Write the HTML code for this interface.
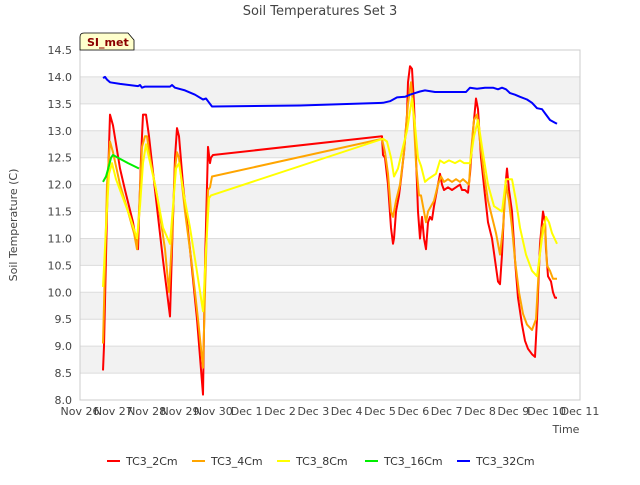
<!DOCTYPE html>
<html><head><meta charset="utf-8"><style>
body{margin:0;background:#fff;font-family:"Liberation Sans","DejaVu Sans",sans-serif}
svg text{font-family:"DejaVu Sans","Liberation Sans",sans-serif}
</style></head><body>
<svg id="c" width="640" height="480" viewBox="0 0 640 480" xmlns="http://www.w3.org/2000/svg">
<rect width="640" height="480" fill="#fff"/>
<text x="320" y="15" text-anchor="middle" font-size="13" fill="#444">Soil Temperatures Set 3</text>
<g id="grid"></g>
<g id="series"></g>
<rect x="80" y="50" width="500" height="350" fill="none" stroke="#ccc"/>
<g id="axes"></g>
<text transform="translate(17,225) rotate(-90)" text-anchor="middle" font-size="11" fill="#444">Soil Temperature (C)</text>
<text x="566" y="433" text-anchor="middle" font-size="11" fill="#444">Time</text>
<g>
<path d="M80,50 L80,37 Q80,33 84,33 L128,33 L134,40 L134,50 Z" fill="#ffffcc" stroke="#000" stroke-width="0.8"/>
<text x="87" y="46" font-size="11" font-weight="bold" fill="#8b0000">SI_met</text>
</g>
<g id="legend"></g>
</svg>
<script>
const yTicks=[8.0,8.5,9.0,9.5,10.0,10.5,11.0,11.5,12.0,12.5,13.0,13.5,14.0,14.5];
const xTickLabels=["Nov 26","Nov 27","Nov 28","Nov 29","Nov 30","Dec 1","Dec 2","Dec 3","Dec 4","Dec 5","Dec 6","Dec 7","Dec 8","Dec 9","Dec 10","Dec 11"];
const seriesNames=["TC3_2Cm","TC3_4Cm","TC3_8Cm","TC3_16Cm","TC3_32Cm"];
const seriesColors=["#ff0000","#ffa500","#ffff00","#00ee00","#0000ff"];
const t2=[.69,.72,.81,.9,.99,1.2,1.35,1.59,1.71,1.74,1.83,1.89,1.98,2.07,2.25,2.49,2.7,2.76,2.85,2.91,2.97,3.09,3.3,3.51,3.69,3.75,3.84,3.9,3.93,3.99,9.06,9.09,9.15,9.24,9.33,9.39,9.42,9.48,9.57,9.63,9.72,9.81,9.84,9.9,9.96,10.02,10.08,10.14,10.2,10.26,10.32,10.38,10.44,10.5,10.56,10.62,10.71,10.8,10.86,10.92,11.04,11.16,11.28,11.4,11.46,11.55,11.64,11.7,11.79,11.88,11.94,12.03,12.15,12.24,12.36,12.45,12.54,12.6,12.66,12.75,12.81,12.87,12.96,13.05,13.14,13.26,13.35,13.44,13.56,13.65,13.71,13.8,13.89,13.95,13.98,14.04,14.13,14.19,14.25,14.31];
const v2=[8.55,9.0,11.5,13.3,13.1,12.3,11.9,11.3,10.85,10.8,12.5,13.3,13.3,12.9,11.9,10.6,9.55,10.8,12.5,13.05,12.9,12.0,10.8,9.5,8.1,10.5,12.7,12.4,12.5,12.55,12.9,12.55,12.5,12.0,11.2,10.9,11.0,11.5,11.8,12.1,12.6,13.3,13.9,14.2,14.15,13.5,12.5,11.5,11.0,11.4,11.0,10.8,11.3,11.4,11.35,11.6,11.9,12.2,12.0,11.9,11.95,11.9,11.95,12.0,11.9,11.9,11.85,12.2,13.0,13.6,13.4,12.5,11.8,11.3,11.0,10.6,10.2,10.15,10.7,11.9,12.3,11.9,11.5,10.6,9.9,9.4,9.1,8.95,8.85,8.8,9.5,10.9,11.5,11.3,10.8,10.3,10.2,10.0,9.9,9.9];
const t4=[.69,.75,.81,.9,.99,1.2,1.44,1.62,1.71,1.77,1.86,1.95,2.01,2.1,2.31,2.55,2.67,2.76,2.85,2.91,2.97,3.15,3.36,3.54,3.69,3.75,3.84,3.9,3.96,9.06,9.15,9.24,9.33,9.39,9.48,9.6,9.72,9.84,9.93,9.99,10.08,10.17,10.23,10.32,10.38,10.44,10.53,10.62,10.74,10.83,10.92,11.04,11.16,11.28,11.4,11.49,11.58,11.67,11.73,11.82,11.91,12.0,12.12,12.24,12.36,12.48,12.6,12.69,12.78,12.87,12.96,13.05,13.17,13.29,13.41,13.56,13.68,13.77,13.86,13.95,14.01,14.1,14.19,14.31];
const v4=[9.05,10.5,12.0,12.8,12.6,12.0,11.5,11.1,10.8,11.5,12.7,12.9,12.9,12.5,11.8,10.8,10.0,11.0,12.3,12.6,12.5,11.5,10.5,9.5,8.6,10.0,11.9,11.95,12.15,12.85,12.6,12.2,11.5,11.4,11.7,12.0,12.6,13.5,13.9,13.5,12.4,11.8,11.8,11.5,11.3,11.5,11.6,11.7,12.0,12.15,12.05,12.1,12.05,12.1,12.05,12.1,12.05,12.0,12.6,13.2,13.3,12.8,12.2,11.7,11.4,11.1,10.7,11.2,12.0,11.7,11.2,10.6,10.0,9.6,9.4,9.3,9.5,10.5,11.2,11.3,10.5,10.4,10.25,10.25];
const t8=[.69,.78,.87,.96,1.08,1.26,1.5,1.71,1.8,1.89,1.98,2.07,2.25,2.49,2.7,2.79,2.88,2.97,3.12,3.3,3.48,3.69,3.78,3.87,3.93,9.09,9.21,9.33,9.42,9.54,9.69,9.81,9.96,10.05,10.14,10.23,10.35,10.44,10.56,10.68,10.8,10.92,11.07,11.25,11.4,11.52,11.7,11.82,11.94,12.06,12.24,12.42,12.66,12.78,12.96,13.08,13.2,13.38,13.56,13.71,13.86,13.98,14.07,14.16,14.31];
const v8=[10.1,11.2,12.2,12.4,12.1,11.8,11.4,11.0,11.6,12.4,12.75,12.5,12.0,11.2,10.9,11.6,12.3,12.4,11.8,11.2,10.5,9.65,10.8,11.75,11.8,12.85,12.8,12.5,12.15,12.3,12.7,13.0,13.6,13.1,12.5,12.35,12.05,12.1,12.15,12.2,12.45,12.4,12.45,12.4,12.45,12.4,12.4,12.9,13.2,12.7,12.0,11.6,11.5,12.1,12.1,11.7,11.2,10.7,10.4,10.3,11.0,11.4,11.3,11.1,10.9];
const t16=[.69,.78,.87,.93,.99,1.14,1.44,1.77];
const v16=[12.05,12.15,12.35,12.5,12.55,12.5,12.4,12.3];
const t32=[.69,.75,.81,.9,1.2,1.74,1.8,1.86,1.95,2.4,2.7,2.76,2.85,3.15,3.45,3.69,3.78,3.84,3.96,6.6,9.09,9.3,9.51,9.75,9.9,10.05,10.2,10.35,10.65,10.95,11.34,11.58,11.7,11.91,12.15,12.39,12.54,12.66,12.78,12.9,13.05,13.2,13.41,13.56,13.71,13.86,13.98,14.1,14.25,14.31];
const v32=[13.98,14.0,13.95,13.9,13.87,13.83,13.85,13.8,13.82,13.82,13.82,13.85,13.8,13.75,13.67,13.58,13.6,13.55,13.45,13.47,13.52,13.55,13.62,13.63,13.67,13.7,13.73,13.75,13.72,13.72,13.72,13.72,13.8,13.78,13.8,13.8,13.77,13.8,13.77,13.7,13.67,13.63,13.58,13.52,13.42,13.4,13.3,13.2,13.15,13.13];

const NS="http://www.w3.org/2000/svg";
const X0=80,X1=580,Y0=400,Y1=50,DMIN=0,DMAX=15,VMIN=8,VMAX=14.5;
function xs(d){return X0+(d-DMIN)/(DMAX-DMIN)*(X1-X0);}
function ys(v){return Y0-(v-VMIN)/(VMAX-VMIN)*(Y0-Y1);}
function mk(tag,attrs,parent){const e=document.createElementNS(NS,tag);for(const k in attrs)e.setAttribute(k,attrs[k]);parent.appendChild(e);return e;}
const grid=document.getElementById('grid'),axes=document.getElementById('axes');
for(let i=0;i<yTicks.length-1;i++){
  if(i%2===1){const r=mk('rect',{x:X0,y:ys(yTicks[i+1]),width:X1-X0,height:ys(yTicks[i])-ys(yTicks[i+1]),fill:'#f2f2f2'},grid);
  
  }
}
yTicks.forEach(v=>{
  const l=mk('line',{x1:X0,x2:X1,y1:ys(v),y2:ys(v),stroke:'#dcdcdc','stroke-width':1},grid);
  
  
  const t=mk('text',{x:X0-8,y:ys(v)+4,'text-anchor':'end','font-size':11,fill:'#444'},axes);
  t.textContent=v.toFixed(1);
  
  
});
xTickLabels.forEach((s,i)=>{
  const t=mk('text',{x:xs(i),y:415,'text-anchor':'middle','font-size':11,fill:'#444'},axes);
  t.textContent=s;
  
  
});
const ser=document.getElementById('series');
const allT=[t2,t4,t8,t16,t32],allV=[v2,v4,v8,v16,v32];
allT.forEach((tt,si)=>{
  const pts=tt.map((d,i)=>xs(d).toFixed(1)+','+ys(allV[si][i]).toFixed(1)).join(' ');
  const p=mk('polyline',{points:pts,fill:'none',stroke:seriesColors[si],'stroke-width':2,'stroke-linejoin':'round'},ser);
  
  
});
const leg=document.getElementById('legend');
const legX=[107,192,277,365,457];
seriesNames.forEach((n,i)=>{
  const g=mk('g',{},leg);
  
  
  mk('line',{x1:legX[i],x2:legX[i]+13,y1:461,y2:461,stroke:seriesColors[i],'stroke-width':2},g);
  const t=mk('text',{x:legX[i]+19,y:465,'font-size':11,fill:'#333'},g);
  t.textContent=n;
});
</script>
</body></html>
